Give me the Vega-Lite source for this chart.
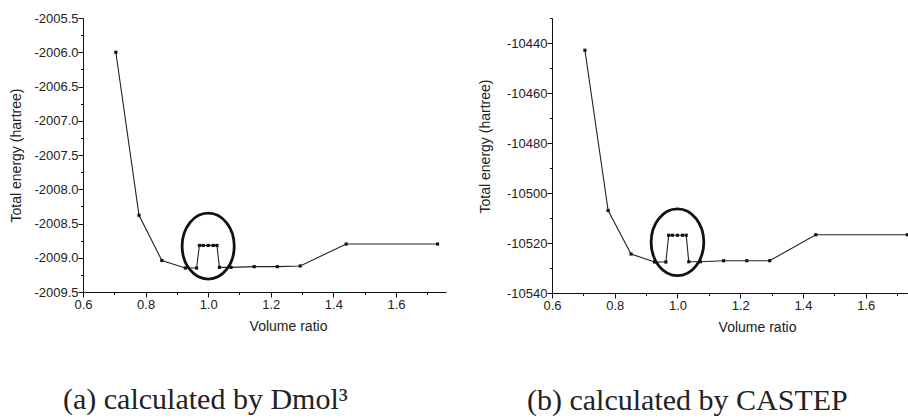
{
  "$schema": "https://vega.github.io/schema/vega-lite/v6.json",
  "background": "white",
  "padding": {"left": 9, "top": 12, "right": 0, "bottom": 0},
  "bounds": "flush",
  "spacing": 106,
  "datasets": {
    "dmol": [
      {"ratio": 0.705, "energy": -2006.0},
      {"ratio": 0.779, "energy": -2008.38},
      {"ratio": 0.852, "energy": -2009.04},
      {"ratio": 0.927, "energy": -2009.15},
      {"ratio": 0.963, "energy": -2009.15},
      {"ratio": 0.972, "energy": -2008.82},
      {"ratio": 0.984, "energy": -2008.82},
      {"ratio": 1.0, "energy": -2008.82},
      {"ratio": 1.016, "energy": -2008.82},
      {"ratio": 1.028, "energy": -2008.82},
      {"ratio": 1.036, "energy": -2009.14},
      {"ratio": 1.073, "energy": -2009.14},
      {"ratio": 1.147, "energy": -2009.13},
      {"ratio": 1.221, "energy": -2009.13},
      {"ratio": 1.294, "energy": -2009.12},
      {"ratio": 1.441, "energy": -2008.8},
      {"ratio": 1.733, "energy": -2008.8}
    ],
    "castep": [
      {"ratio": 0.705, "energy": -10442.9},
      {"ratio": 0.779, "energy": -10507.0},
      {"ratio": 0.852, "energy": -10524.4},
      {"ratio": 0.927, "energy": -10527.6},
      {"ratio": 0.963, "energy": -10527.6},
      {"ratio": 0.972, "energy": -10516.9},
      {"ratio": 0.984, "energy": -10516.9},
      {"ratio": 1.0, "energy": -10516.9},
      {"ratio": 1.016, "energy": -10516.9},
      {"ratio": 1.028, "energy": -10516.9},
      {"ratio": 1.036, "energy": -10527.5},
      {"ratio": 1.073, "energy": -10527.5},
      {"ratio": 1.147, "energy": -10527.1},
      {"ratio": 1.221, "energy": -10527.1},
      {"ratio": 1.294, "energy": -10527.1},
      {"ratio": 1.441, "energy": -10516.7},
      {"ratio": 1.733, "energy": -10516.7}
    ],
    "ring_a": [{"ratio": 1.0, "energy": -2008.83}],
    "ring_b": [{"ratio": 1.0, "energy": -10519.7}]
  },
  "hconcat": [
    {
      "width": 363,
      "height": 274,
      "title": {"text": "(a) calculated by Dmol³", "orient": "bottom", "anchor": "start", "frame": "group", "dx": -20, "offset": 52, "font": "Liberation Serif", "fontSize": 30, "fontWeight": "normal", "color": "#222"},
      "layer": [
        {
          "data": {"name": "dmol"},
          "mark": {"type": "line", "color": "#222", "strokeWidth": 1.1},
          "encoding": {
            "x": {"field": "ratio", "type": "quantitative", "scale": {"domain": [0.6, 1.76], "nice": false, "zero": false},
                  "axis": {"orient": "bottom", "values": [0.7, 0.9, 1.1, 1.3, 1.5, 1.7], "labels": false, "domain": false, "tickSize": 2.5, "title": null, "grid": false}},
            "y": {"field": "energy", "type": "quantitative", "scale": {"domain": [-2009.5, -2005.5], "nice": false, "zero": false},
                  "axis": {"orient": "left", "values": [-2009.25, -2008.75, -2008.25, -2007.75, -2007.25, -2006.75, -2006.25, -2005.75], "labels": false, "domain": false, "tickSize": 2.5, "title": null, "grid": false}}
          }
        },
        {
          "data": {"name": "dmol"},
          "mark": {"type": "point", "shape": "square", "filled": true, "size": 10, "color": "#111", "opacity": 1},
          "encoding": {
            "x": {"field": "ratio", "type": "quantitative", "scale": {"domain": [0.6, 1.76], "nice": false, "zero": false},
                  "axis": {"orient": "bottom", "values": [0.6, 0.8, 1.0, 1.2, 1.4, 1.6], "format": ".1f", "labelFlush": false, "tickSize": 5, "labelPadding": 1, "title": "Volume ratio", "titlePadding": 8, "titleX": 205, "grid": false}},
            "y": {"field": "energy", "type": "quantitative", "scale": {"domain": [-2009.5, -2005.5], "nice": false, "zero": false},
                  "axis": {"orient": "left", "values": [-2009.5, -2009, -2008.5, -2008, -2007.5, -2007, -2006.5, -2006, -2005.5], "format": ".1f", "labelExpr": "replace(datum.label, '−', '-')", "labelFlush": false, "tickSize": 5, "labelPadding": 0, "title": "Total energy (hartree)", "titlePadding": 10, "grid": false}}
          }
        },
        {
          "data": {"name": "ring_a"},
          "mark": {"type": "point", "shape": "M -0.79 0 C -0.79 -0.5523 -0.4363 -1 0 -1 C 0.4363 -1 0.79 -0.5523 0.79 0 C 0.79 0.5523 0.4363 1 0 1 C -0.4363 1 -0.79 0.5523 -0.79 0 Z", "filled": false, "size": 4356, "stroke": "#111", "strokeWidth": 2.8, "opacity": 1},
          "encoding": {
            "x": {"field": "ratio", "type": "quantitative", "axis": null},
            "y": {"field": "energy", "type": "quantitative", "axis": null}
          }
        }
      ],
      "resolve": {"axis": {"x": "independent", "y": "independent"}}
    },
    {
      "width": 356,
      "height": 275,
      "title": {"text": "(b) calculated by CASTEP", "orient": "bottom", "anchor": "start", "frame": "group", "dx": -25, "offset": 52, "font": "Liberation Serif", "fontSize": 30, "fontWeight": "normal", "color": "#222"},
      "layer": [
        {
          "data": {"name": "castep"},
          "mark": {"type": "line", "color": "#222", "strokeWidth": 1.1},
          "encoding": {
            "x": {"field": "ratio", "type": "quantitative", "scale": {"domain": [0.6, 1.735], "nice": false, "zero": false},
                  "axis": {"orient": "bottom", "values": [0.7, 0.9, 1.1, 1.3, 1.5, 1.7], "labels": false, "domain": false, "tickSize": 2.5, "title": null, "grid": false}},
            "y": {"field": "energy", "type": "quantitative", "scale": {"domain": [-10540, -10430], "nice": false, "zero": false},
                  "axis": {"orient": "left", "values": [-10530, -10510, -10490, -10470, -10450, -10430], "labels": false, "domain": false, "tickSize": 2.5, "title": null, "grid": false}}
          }
        },
        {
          "data": {"name": "castep"},
          "mark": {"type": "point", "shape": "square", "filled": true, "size": 10, "color": "#111", "opacity": 1},
          "encoding": {
            "x": {"field": "ratio", "type": "quantitative", "scale": {"domain": [0.6, 1.735], "nice": false, "zero": false},
                  "axis": {"orient": "bottom", "values": [0.6, 0.8, 1.0, 1.2, 1.4, 1.6], "format": ".1f", "labelFlush": false, "tickSize": 5, "labelPadding": 1, "title": "Volume ratio", "titlePadding": 8, "titleX": 205, "grid": false}},
            "y": {"field": "energy", "type": "quantitative", "scale": {"domain": [-10540, -10430], "nice": false, "zero": false},
                  "axis": {"orient": "left", "values": [-10540, -10520, -10500, -10480, -10460, -10440], "format": "d", "labelExpr": "replace(datum.label, '−', '-')", "labelFlush": false, "tickSize": 5, "labelPadding": 0, "title": "Total energy (hartree)", "titlePadding": 14, "titleY": 128, "grid": false}}
          }
        },
        {
          "data": {"name": "ring_b"},
          "mark": {"type": "point", "shape": "M -0.79 0 C -0.79 -0.5523 -0.4363 -1 0 -1 C 0.4363 -1 0.79 -0.5523 0.79 0 C 0.79 0.5523 0.4363 1 0 1 C -0.4363 1 -0.79 0.5523 -0.79 0 Z", "filled": false, "size": 4450, "stroke": "#111", "strokeWidth": 2.8, "opacity": 1},
          "encoding": {
            "x": {"field": "ratio", "type": "quantitative", "axis": null},
            "y": {"field": "energy", "type": "quantitative", "axis": null}
          }
        }
      ],
      "resolve": {"axis": {"x": "independent", "y": "independent"}}
    }
  ],
  "config": {
    "view": {"stroke": null},
    "axis": {
      "grid": false,
      "domainColor": "#111",
      "domainWidth": 1,
      "tickColor": "#111",
      "tickWidth": 1,
      "labelColor": "#222",
      "titleColor": "#222",
      "labelFont": "Liberation Sans",
      "titleFont": "Liberation Sans",
      "labelFontSize": 13,
      "titleFontSize": 14,
      "titleFontWeight": "normal"
    }
  }
}
